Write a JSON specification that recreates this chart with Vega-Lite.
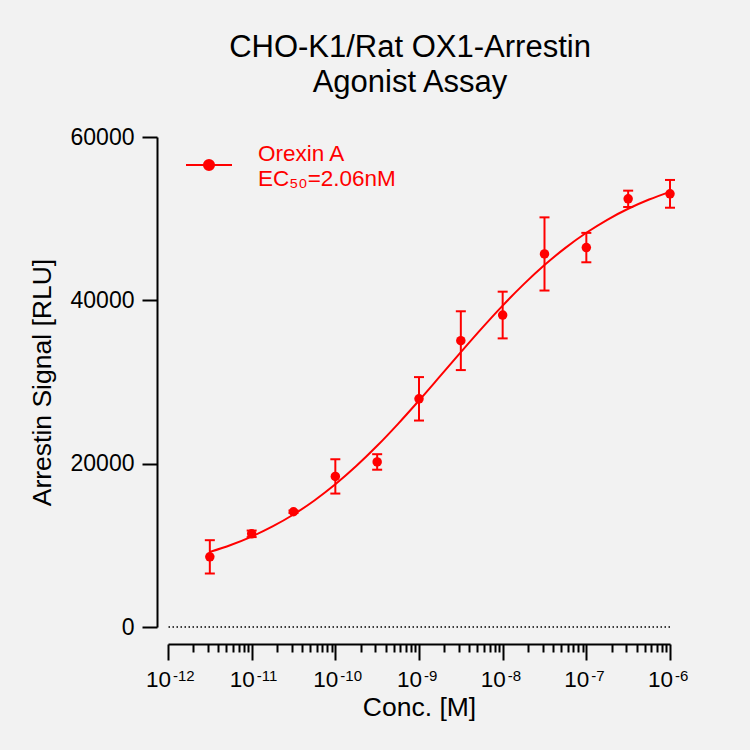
{
  "$schema": "https://vega.github.io/schema/vega-lite/v6.json",
  "width": 502,
  "height": 490,
  "autosize": "none",
  "padding": {"left": 168, "top": 137, "right": 80, "bottom": 123},
  "background": "#f2f2f2",
  "title": {
    "text": ["CHO-K1/Rat OX1-Arrestin", "Agonist Assay"],
    "font": "Liberation Sans",
    "fontSize": 31,
    "fontWeight": "normal",
    "color": "#000000",
    "lineHeight": 35,
    "anchor": "middle",
    "frame": "group",
    "dx": -9,
    "offset": 27
  },
  "datasets": {
    "points": [
      {"conc": 3.162e-12, "signal": 8590, "lo": 6550, "hi": 10630, "series": "Orexin A"},
      {"conc": 1e-11, "signal": 11410, "lo": 11010, "hi": 11810, "series": "Orexin A"},
      {"conc": 3.162e-11, "signal": 14110, "lo": 13960, "hi": 14260, "series": "Orexin A"},
      {"conc": 1e-10, "signal": 18440, "lo": 16340, "hi": 20540, "series": "Orexin A"},
      {"conc": 3.162e-10, "signal": 20210, "lo": 19260, "hi": 21160, "series": "Orexin A"},
      {"conc": 1e-9, "signal": 27940, "lo": 25280, "hi": 30600, "series": "Orexin A"},
      {"conc": 3.162e-9, "signal": 35060, "lo": 31460, "hi": 38660, "series": "Orexin A"},
      {"conc": 1e-8, "signal": 38200, "lo": 35340, "hi": 41060, "series": "Orexin A"},
      {"conc": 3.162e-8, "signal": 45680, "lo": 41200, "hi": 50160, "series": "Orexin A"},
      {"conc": 1e-7, "signal": 46460, "lo": 44660, "hi": 48260, "series": "Orexin A"},
      {"conc": 3.162e-7, "signal": 52430, "lo": 51430, "hi": 53430, "series": "Orexin A"},
      {"conc": 1e-6, "signal": 53040, "lo": 51340, "hi": 54740, "series": "Orexin A"}
    ],
    "curve": [
      {"conc": 3.162e-12, "signal": 9193},
      {"conc": 5.623e-12, "signal": 10045},
      {"conc": 1e-11, "signal": 11076},
      {"conc": 1.778e-11, "signal": 12313},
      {"conc": 3.162e-11, "signal": 13777},
      {"conc": 5.623e-11, "signal": 15492},
      {"conc": 1e-10, "signal": 17468},
      {"conc": 1.778e-10, "signal": 19703},
      {"conc": 3.162e-10, "signal": 22185},
      {"conc": 5.623e-10, "signal": 24879},
      {"conc": 1e-9, "signal": 27735},
      {"conc": 1.778e-9, "signal": 30687},
      {"conc": 3.162e-9, "signal": 33659},
      {"conc": 5.623e-9, "signal": 36571},
      {"conc": 1e-8, "signal": 39356},
      {"conc": 1.778e-8, "signal": 41952},
      {"conc": 3.162e-8, "signal": 44318},
      {"conc": 5.623e-8, "signal": 46425},
      {"conc": 1e-7, "signal": 48272},
      {"conc": 1.778e-7, "signal": 49866},
      {"conc": 3.162e-7, "signal": 51212},
      {"conc": 5.623e-7, "signal": 52346},
      {"conc": 1e-6, "signal": 53286}
    ],
    "baseline": [{"signal": 0}]
  },
  "encoding": {
    "y": {
      "field": "signal",
      "type": "quantitative",
      "scale": {"domain": [0, 60000], "nice": false},
      "axis": {
        "title": "Arrestin Signal [RLU]",
        "values": [0, 20000, 40000, 60000],
        "format": "d",
        "offset": 11,
        "tickSize": 15,
        "labelPadding": 8,
        "labelFontSize": 23,
        "titlePadding": 14
      }
    }
  },
  "layer": [
    {
      "data": {"name": "baseline"},
      "mark": {"type": "rule", "color": "#000000", "strokeWidth": 1.5, "strokeDash": [1.5, 2.5]},
      "encoding": {}
    },
    {
      "data": {"name": "curve"},
      "mark": {"type": "line", "color": "#ff0000", "strokeWidth": 2, "interpolate": "monotone"},
      "encoding": {
        "x": {
          "field": "conc",
          "type": "quantitative",
          "scale": {"type": "log", "domain": [1e-12, 1e-6], "nice": false},
          "axis": {
            "title": "Conc. [M]",
            "orient": "bottom",
            "offset": 17,
            "values": [1e-12, 2e-12, 3e-12, 4e-12, 5e-12, 6e-12, 7e-12, 8e-12, 9e-12,
                       1e-11, 2e-11, 3e-11, 4e-11, 5e-11, 6e-11, 7e-11, 8e-11, 9e-11,
                       1e-10, 2e-10, 3e-10, 4e-10, 5e-10, 6e-10, 7e-10, 8e-10, 9e-10,
                       1e-9, 2e-9, 3e-9, 4e-9, 5e-9, 6e-9, 7e-9, 8e-9, 9e-9,
                       1e-8, 2e-8, 3e-8, 4e-8, 5e-8, 6e-8, 7e-8, 8e-8, 9e-8,
                       1e-7, 2e-7, 3e-7, 4e-7, 5e-7, 6e-7, 7e-7, 8e-7, 9e-7, 1e-6],
            "labelExpr": "abs(log(datum.value)/LN10 - round(log(datum.value)/LN10)) < 0.001 ? '10' : ''",
            "tickSize": {"condition": {"test": "abs(log(datum.value)/LN10 - round(log(datum.value)/LN10)) < 0.001", "value": 16}, "value": 8},
            "labelAlign": "right",
            "labelOffset": 2.5,
            "labelOverlap": false,
            "labelBound": false,
            "labelFlush": false,
            "labelPadding": 8,
            "labelFontSize": 22.5,
            "titlePadding": 4
          }
        }
      }
    },
    {
      "data": {"name": "points"},
      "mark": {"type": "errorbar", "color": "#ff0000", "opacity": 1, "thickness": 2, "ticks": {"size": 10, "thickness": 2, "color": "#ff0000", "opacity": 1}, "rule": {"opacity": 1, "color": "#ff0000"}},
      "encoding": {
        "x": {"field": "conc", "type": "quantitative", "scale": {"type": "log", "domain": [1e-12, 1e-6], "nice": false}, "axis": null},
        "y": {"field": "lo", "type": "quantitative"},
        "y2": {"field": "hi"}
      }
    },
    {
      "data": {"name": "points"},
      "mark": {"type": "circle", "size": 90, "opacity": 1},
      "encoding": {
        "x": {
          "field": "conc",
          "type": "quantitative",
          "scale": {"type": "log", "domain": [1e-12, 1e-6], "nice": false},
          "axis": {
            "title": null,
            "orient": "bottom",
            "offset": 17,
            "domain": false,
            "tickOpacity": 0,
            "values": [1e-12, 1e-11, 1e-10, 1e-9, 1e-8, 1e-7, 1e-6],
            "tickSize": 16,
            "labelExpr": "split('-12,-11,-10,-9,-8,-7,-6', ',')[round(log(datum.value)/LN10) + 12]",
            "labelAlign": "left",
            "labelOffset": 4.5,
            "labelOverlap": false,
            "labelBound": false,
            "labelFlush": false,
            "labelPadding": 8,
            "labelFontSize": 15
          }
        },
        "color": {
          "field": "series",
          "type": "nominal",
          "scale": {"range": ["#ff0000"]},
          "legend": {
            "title": null,
            "orient": "none",
            "legendX": 17,
            "legendY": -7,
            "symbolType": "M-1,0.48H1M0.22,0.48A0.22,0.22,0,1,1,-0.22,0.48A0.22,0.22,0,1,1,0.22,0.48Z",
            "symbolSize": 2116,
            "symbolStrokeWidth": 2,
            "symbolStrokeColor": "#ff0000",
            "symbolFillColor": "#ff0000",
            "labelExpr": "['Orexin A', 'EC₅₀=2.06nM']",
            "labelFont": "Liberation Sans",
            "labelFontSize": 22.5,
            "labelColor": "#ff0000",
            "labelOffset": 25,
            "labelLimit": 300
          }
        }
      }
    }
  ],
  "resolve": {"axis": {"x": "independent"}},
  "config": {
    "font": "Liberation Sans",
    "view": {"stroke": null},
    "axis": {
      "grid": false,
      "domainColor": "#000000",
      "domainWidth": 2,
      "tickColor": "#000000",
      "tickWidth": 2,
      "labelColor": "#000000",
      "labelFont": "Liberation Sans",
      "labelFontSize": 22,
      "titleColor": "#000000",
      "titleFont": "Liberation Sans",
      "titleFontSize": 26.5,
      "titleFontWeight": "normal"
    }
  }
}
